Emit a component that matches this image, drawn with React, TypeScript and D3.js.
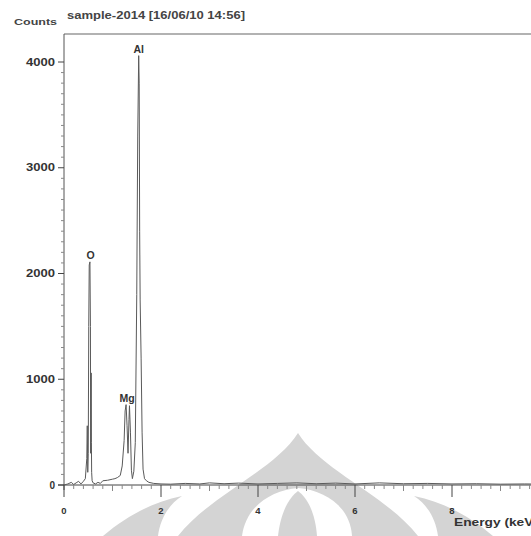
import React from "react";
import * as d3 from "d3";

const energy = [0, 0.08, 0.15, 0.2, 0.25, 0.3, 0.35, 0.4, 0.44, 0.47, 0.48, 0.49, 0.5, 0.51, 0.52, 0.535, 0.545, 0.55, 0.56, 0.565, 0.57, 0.58, 0.6, 0.65, 0.7, 0.75, 0.8, 0.9, 1.0, 1.05, 1.1, 1.16, 1.2, 1.24, 1.26, 1.28, 1.3, 1.32, 1.34, 1.35, 1.37, 1.39, 1.41, 1.44, 1.47, 1.5, 1.52, 1.54, 1.55, 1.56, 1.57, 1.59, 1.61, 1.63, 1.66, 1.7, 1.75, 1.85, 2.0, 2.2, 2.5, 2.8, 3.0, 3.3, 3.6, 4.0, 4.4, 4.8, 5.2, 5.6, 6.0, 6.5, 7.0, 7.5, 8.0, 8.5, 9.0, 9.5, 10.0];
const counts = [0, 10, 25, 5, 20, 35, 10, 35, 60, 250, 560, 120, 300, 1500, 2080, 2110, 1500, 300, 1060, 400, 120, 40, 20, 10, 25, 15, 40, 45, 55, 60, 70, 90, 180, 420, 700, 760, 560, 300, 620, 750, 500, 140, 60, 130, 400, 1800, 3300, 4060, 3800, 2400, 1750, 1200, 500, 150, 60, 40, 25, 15, 10, 8, 15, 10, 20, 12, 18, 10, 15, 20, 12, 18, 10, 20, 12, 15, 10, 12, 8, 10, 8, 5];

const yTicks = [0, 1000, 2000, 3000, 4000];
const xTicks = [0, 2, 4, 6, 8];
const peakLabels = ["O", "Mg", "Al"];
const peakEnergy = [0.55, 1.3, 1.54];
const peakCounts = [2110, 760, 4060];

const title = "sample-2014 [16/06/10 14:56]";
const yTitle = "Counts";
const xTitle = "Energy (keV)";

export default function App() {
  const W = 531, H = 536;
  const x = d3.scaleLinear().domain([0, 10]).range([64, 64 + 485]);
  const y = d3.scaleLinear().domain([0, 4000]).range([485, 62]);
  const line = d3.line<number>().x((_, i) => x(energy[i])).y((d) => y(d));
  const minorY = d3.range(0, 4100, 100).filter((v) => v % 1000 !== 0);
  const minorX = d3.range(0, 10.01, 0.2).filter((v) => Math.abs(v / 2 - Math.round(v / 2)) > 0.01);
  const font = "'Liberation Sans', Arial, sans-serif";
  const cx = 298;
  const gray = "#d4d4d4";
  const wm = (pts: [number, number][]) => {
    const p = d3.path();
    p.moveTo(cx + pts[0][0], pts[0][1]);
    for (let i = 1; i + 2 < pts.length; i += 3) {
      p.bezierCurveTo(cx + pts[i][0], pts[i][1], cx + pts[i + 1][0], pts[i + 1][1], cx + pts[i + 2][0], pts[i + 2][1]);
    }
    p.closePath();
    return p.toString();
  };
  return (
    <svg width={W} height={H} style={{ position: "fixed", left: 0, top: 0, background: "#fff" }} fontFamily={font}>
      <rect width={W} height={H} fill="#fff" />
      {/* watermark */}
      <path d={wm([[-120, 536], [-88, 495], [-23, 470], [0, 433], [23, 470], [88, 495], [120, 536]])} fill={gray} />
      <path d={wm([[-56, 536], [-52, 505], [-25, 490], [0, 488], [25, 490], [52, 505], [54, 536]])} fill="#fff" />
      <path d={wm([[-20, 536], [-17, 510], [-8, 497], [0, 491], [8, 497], [17, 510], [19, 536]])} fill={gray} />
      <path d={wm([[-195, 536], [-170, 515], [-145, 502], [-116, 496], [-130, 505], [-138, 520], [-140, 536]])} fill={gray} />
      <path d={wm([[195, 536], [170, 515], [145, 502], [116, 496], [130, 505], [138, 520], [140, 536]])} fill={gray} />
      {/* frame */}
      <line x1={64} x2={W} y1={34} y2={34} stroke="#999" strokeWidth={1.5} />
      <line x1={64} x2={64} y1={34} y2={490} stroke="#555" strokeWidth={1} />
      <line x1={58} x2={W} y1={485} y2={485} stroke="#444" strokeWidth={1} />
      {yTicks.map((t) => (
        <g key={"y" + t}>
          <line x1={58} x2={64} y1={y(t)} y2={y(t)} stroke="#444" />
          <text x={55} y={y(t) + 3.5} textAnchor="end" fontSize={10} fontWeight="bold" fill="#333"
            textLength={t === 0 ? undefined : 29} lengthAdjust="spacingAndGlyphs">{t}</text>
        </g>
      ))}
      {minorY.map((t) => (
        <line key={"my" + t} x1={61} x2={64} y1={y(t)} y2={y(t)} stroke="#888" />
      ))}
      {xTicks.map((t) => (
        <g key={"x" + t}>
          <line x1={x(t)} x2={x(t)} y1={485} y2={497} stroke="#444" />
          <text x={x(t)} y={514} textAnchor="middle" fontSize={9.5} fontWeight="bold" fill="#333">{t}</text>
        </g>
      ))}
      {minorX.map((t) => (
        <line key={"mx" + t} x1={x(t)} x2={x(t)} y1={485} y2={Math.abs(t - Math.round(t)) < 0.01 ? 491 : 489} stroke="#888" />
      ))}
      {/* spectrum */}
      <path d={line(counts) || ""} fill="none" stroke="#5a5a5a" strokeWidth={1} />
      {peakLabels.map((l, i) => (
        <text key={l} x={x(peakEnergy[i])} y={y(peakCounts[i]) - 3} textAnchor="middle" fontSize={10.5} fontWeight="bold" fill="#333">{l}</text>
      ))}
      <text x={14} y={25} fontSize={9} fontWeight="bold" fill="#444" textLength={43} lengthAdjust="spacingAndGlyphs">{yTitle}</text>
      <text x={67} y={19} fontSize={10} fontWeight="bold" fill="#444" textLength={178} lengthAdjust="spacingAndGlyphs">{title}</text>
      <text x={454} y={526} fontSize={10} fontWeight="bold" fill="#333" textLength={84} lengthAdjust="spacingAndGlyphs">{xTitle}</text>
    </svg>
  );
}
